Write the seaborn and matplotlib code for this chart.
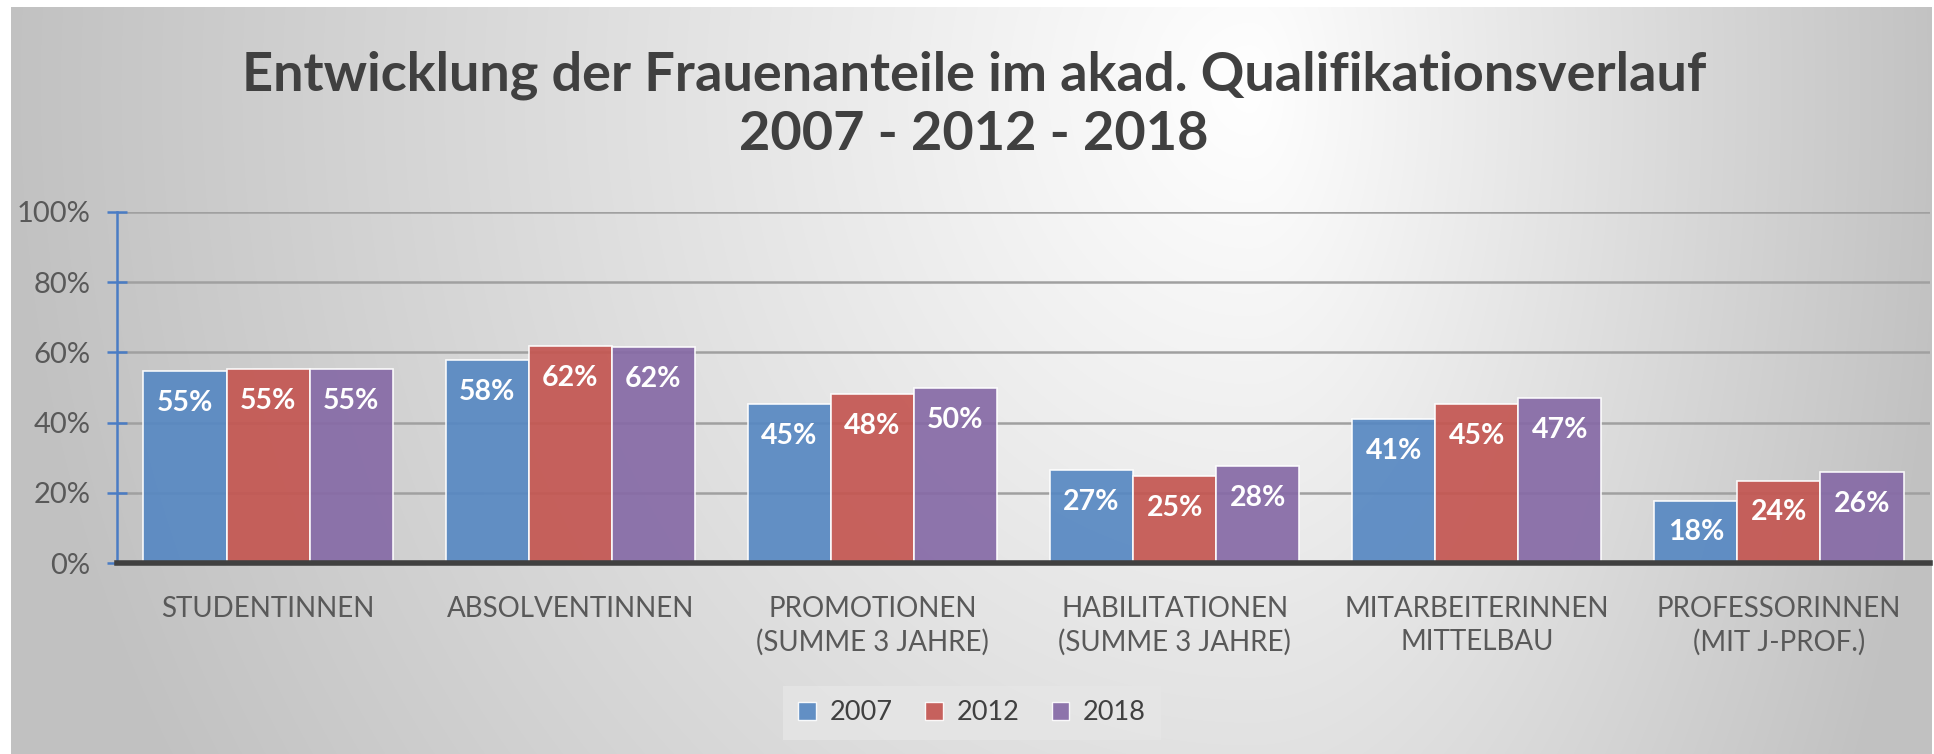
import numpy as np
import pandas as pd
import matplotlib
matplotlib.use("Agg")
import matplotlib.pyplot as plt
from matplotlib.patches import Patch
import seaborn as sns

categories = ["STUDENTINNEN", "ABSOLVENTINNEN", "PROMOTIONEN\n(SUMME 3 JAHRE)",
              "HABILITATIONEN\n(SUMME 3 JAHRE)", "MITARBEITERINNEN\nMITTELBAU",
              "PROFESSORINNEN\n(MIT J-PROF.)"]
years = ["2007", "2012", "2018"]
v2007 = [54.6, 57.9, 45.3, 26.6, 40.9, 17.8]
v2012 = [55.2, 61.8, 48.1, 24.7, 45.3, 23.5]
v2018 = [55.2, 61.6, 49.8, 27.6, 47.0, 25.9]
yticks = [0, 20, 40, 60, 80, 100]
colors = ["#5788C2", "#C45651", "#866AA6"]
title = "Entwicklung der Frauenanteile im akad. Qualifikationsverlauf\n2007 - 2012 - 2018"

df = pd.DataFrame({
    "cat": categories * 3,
    "year": [y for y in years for _ in categories],
    "val": v2007 + v2012 + v2018,
})

sns.set_theme(style="white")
plt.rcParams["font.family"] = ["Lato", "DejaVu Sans"]

W, H = 1934, 754
fig = plt.figure(figsize=(W / 100, H / 100), dpi=100, facecolor="white")

# background gradient panel
x0, y0top = 11, 7
bg = fig.add_axes([x0 / W, 0, (1932 - x0) / W, (H - y0top) / H], zorder=0)
xs = np.arange(x0, 1932)
ys = np.arange(y0top, H)
X, Y = np.meshgrid(xs, ys)
cx, cy = 1250, 90
sx = np.where(X < cx, 1250, 700)
r = np.sqrt(((X - cx) / sx) ** 2 + ((Y - cy) / 1400) ** 2)
g = 1 - (62 / 255) * np.clip(r, 0, 1)
img = np.dstack([g, g, g])
bg.imshow(img, aspect="auto", interpolation="bilinear")
bg.axis("off")

ax = fig.add_axes([117 / W, (H - 563) / H, (1930 - 117) / W, (563 - 212) / H], zorder=1)
ax.patch.set_alpha(0)

sns.barplot(data=df, x="cat", y="val", hue="year", palette=colors, width=0.825,
            alpha=0.92, edgecolor=(1, 1, 1, 0.55), linewidth=1.2, ax=ax,
            legend=False, errorbar=None, saturation=1)

ax.set_ylim(0, 100)
ax.set_xlim(-0.5, 5.5)
ax.set_yticks(yticks)
ax.set_yticklabels([f"{t}%" for t in yticks])
ax.set_xlabel("")
ax.set_ylabel("")
ax.yaxis.grid(True, color="#a0a0a0", linewidth=1.8)
ax.set_axisbelow(True)
for s in ["top", "right"]:
    ax.spines[s].set_visible(False)
ax.spines["left"].set_color("#4A7CC4")
ax.spines["left"].set_linewidth(1.8)
ax.spines["bottom"].set_color("#404040")
ax.spines["bottom"].set_linewidth(4)
ax.spines["bottom"].set_zorder(5)
ax.tick_params(axis="y", left=True, direction="inout", length=14, width=1.8,
               color="#4A7CC4", labelsize=21, labelcolor="#595959", pad=12)
ax.tick_params(axis="x", bottom=False, length=0, labelsize=20, labelcolor="#595959", pad=24)
for t in ax.get_xticklabels():
    t.set_linespacing(1.3)

for cont, vals in zip(ax.containers, [v2007, v2012, v2018]):
    for rect, v in zip(cont, vals):
        ax.annotate(f"{v:.0f}%", (rect.get_x() + rect.get_width() / 2, rect.get_height()),
                    xytext=(0, -23), textcoords="offset points", ha="center", va="center",
                    color="white", fontsize=20.5, fontweight="bold", zorder=6)

fig.text(974 / W, 1 - 105 / H, title, ha="center", va="center", fontsize=39,
         fontweight="bold", color="#404040", linespacing=1.25)

handles = [Patch(facecolor=c, edgecolor=(1, 1, 1, 0.6), alpha=0.92) for c in colors]
leg = fig.legend(handles, years, loc="center", bbox_to_anchor=(972 / W, 1 - 713 / H),
                 ncol=3, frameon=True, fontsize=19.5, handlelength=0.65, handleheight=0.65,
                 handletextpad=0.5, columnspacing=1.2, borderpad=0.55, fancybox=False)
leg.get_frame().set_facecolor("#e6e6e6")
leg.get_frame().set_edgecolor("none")
for t in leg.get_texts():
    t.set_color("#404040")

fig.savefig("out.png", dpi=100, facecolor="white")
